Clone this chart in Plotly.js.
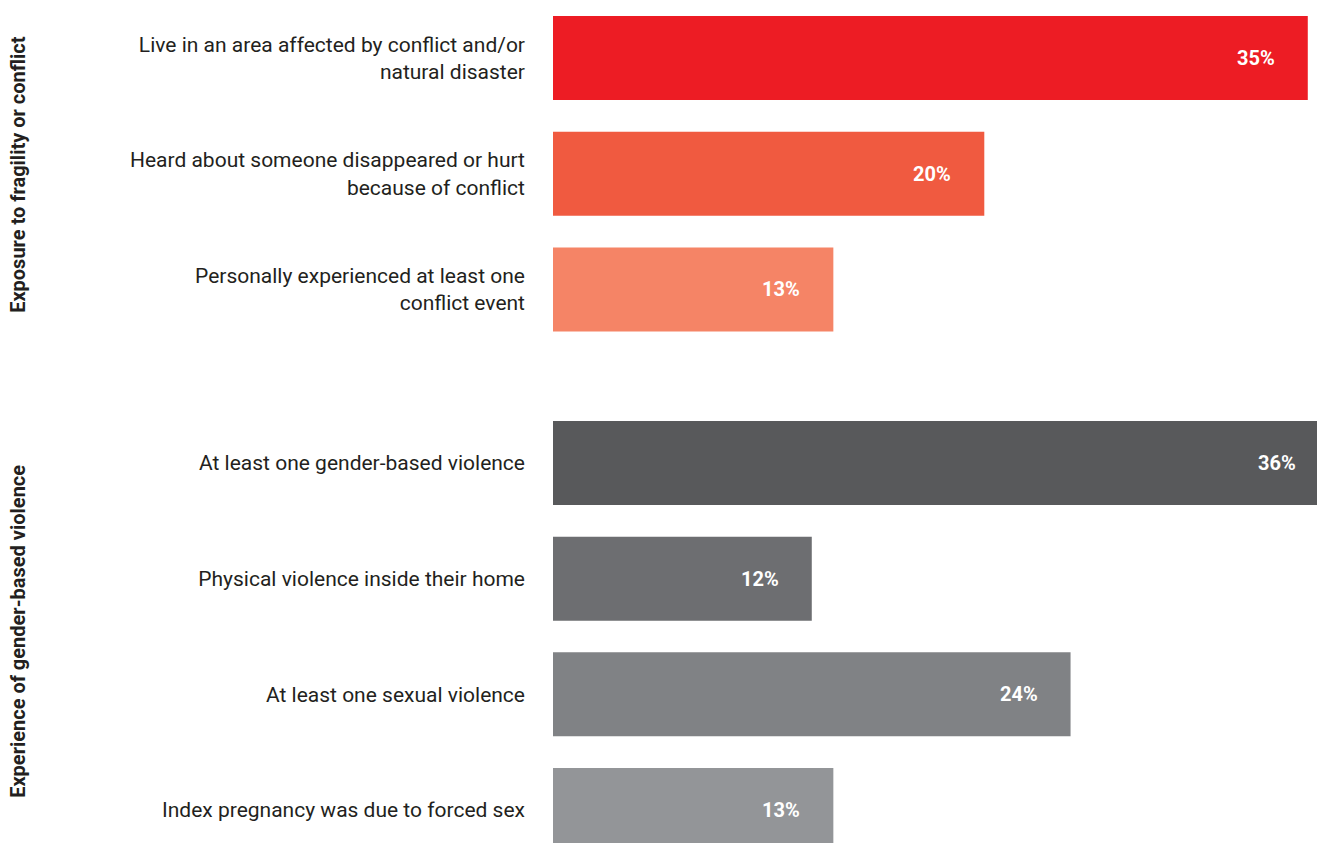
<!DOCTYPE html>
<html>
<head>
<meta charset="utf-8">
<script src="https://cdn.plot.ly/plotly-3.0.1.min.js"></script>
<style>
  html, body { margin: 0; padding: 0; overflow: hidden; background: #ffffff; }
  #chart { width: 1340px; height: 900px; }
</style>
</head>
<body>
<div id="chart"></div>
<script>
// ---- data ----
const categories = [
  "Live in an area affected by conflict and/or<br>natural disaster",
  "Heard about someone disappeared or hurt<br>because of conflict",
  "Personally experienced at least one<br>conflict event",
  "At least one gender-based violence",
  "Physical violence inside their home",
  "At least one sexual violence",
  "Index pregnancy was due to forced sex"
];
const values = [35, 20, 13, 36, 12, 24, 13];
const rowPositions = [0, 1, 2, 3.5, 4.5, 5.5, 6.5];
const groupTitles = ["Exposure to fragility or conflict", "Experience of gender-based violence"];
const barColors = ["#ED1C24", "#F05A40", "#F58466", "#58595B", "#6D6E71", "#808285", "#939598"];

const FONT = "Roboto, 'Open Sans', sans-serif";

const trace = {
  type: "bar",
  orientation: "h",
  x: values,
  y: rowPositions,
  width: 0.726,
  marker: { color: barColors, line: { width: 0 } },
  hoverinfo: "skip",
  showlegend: false
};

const valueAnnotations = values.map((v, i) => ({
  x: v, y: rowPositions[i], xref: "x", yref: "y",
  text: "<b>" + v + "%</b>",
  showarrow: false, xanchor: "right", yanchor: "middle",
  xshift: -31,
  font: { family: FONT, size: 20, color: "#ffffff" }
}));

const groupAnnotations = [
  { text: "<b>" + groupTitles[0] + "</b>", x: -0.68, y: 1 - 174 / 900 },
  { text: "<b>" + groupTitles[1] + "</b>", x: -0.68, y: 1 - 631 / 900 }
].map(a => Object.assign(a, {
  xref: "paper", yref: "paper", showarrow: false, textangle: -90,
  xanchor: "center", yanchor: "middle",
  font: { family: FONT, size: 20, color: "#231F20" }
}));

const plotWidth = 1340 - 553;
const layout = {
  width: 1340, height: 900,
  margin: { l: 553, r: 0, t: 0, b: 0, pad: 0 },
  paper_bgcolor: "#ffffff", plot_bgcolor: "#ffffff",
  font: { family: FONT, color: "#231F20" },
  xaxis: {
    range: [0, plotWidth / 21.565],
    showgrid: false, zeroline: false, showline: false, showticklabels: false, ticks: ""
  },
  yaxis: {
    range: [-58 / 115.7 + 900 / 115.7, -58 / 115.7],
    tickmode: "array", tickvals: rowPositions, ticktext: categories,
    showgrid: false, zeroline: false, showline: false, ticks: "",
    ticklabelstandoff: 27,
    tickfont: { family: FONT, size: 21, color: "#231F20" }
  },
  annotations: valueAnnotations.concat(groupAnnotations)
};

Plotly.newPlot("chart", [trace], layout, { displayModeBar: false, staticPlot: true });
</script>
</body>
</html>
